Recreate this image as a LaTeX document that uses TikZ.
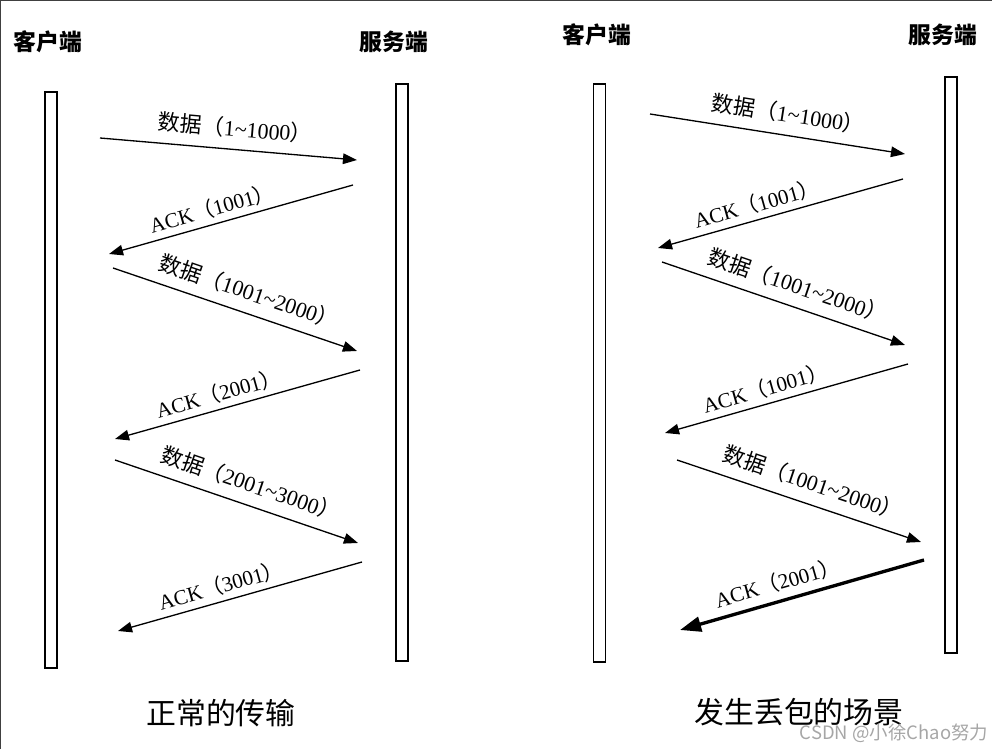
\documentclass[tikz,border=0pt]{standalone}
\usepackage{fontspec}
\setmainfont{Liberation Serif}
\newfontfamily\cjk{Noto Sans CJK SC}
\usetikzlibrary{arrows.meta, positioning}

\newcommand\zh[1]{{\cjk #1}}
\newcommand\datatxt[1]{\zh{数据（}#1\zh{）}}
\newcommand\acktxt[1]{ACK\zh{（}#1\zh{）}}

\begin{document}
\begin{tikzpicture}[x=0.02cm, y=-0.02cm]
    \tikzset{
        lifeline/.style={rectangle, draw, line width=0.9pt, fill=white,
                         minimum width=0.24cm, inner sep=0pt},
        header/.style={font=\cjk\bfseries\fontsize{13}{15}\selectfont},
        caption/.style={font=\cjk\fontsize{17}{20}\selectfont},
        msg/.style={line width=0.75pt, -{Triangle[length=8pt, width=6pt]}},
        lostmsg/.style={line width=1.9pt, -{Triangle[length=12pt, width=8.5pt]}},
        datalabel/.style={sloped, above=5pt, inner sep=1pt,
                          font=\fontsize{12.5}{14}\selectfont},
        acklabel/.style={sloped, above=2pt, inner sep=1pt,
                         font=\fontsize{12}{14}\selectfont}
    }
    \useasboundingbox (0,0) rectangle (992,749);
    \draw[line width=0.04cm, black!75] (0,749) -- (0,0) -- (992,0);

    % normal transfer
    \node[header] (lclient) at (48,42) {客户端};
    \node[header] (lserver) at (394,42) {服务端};
    \node[lifeline, minimum height=11.52cm] (lcbar) at (51,380) {};
    \node[lifeline, minimum height=11.54cm] (lsbar) at (402,372.5) {};

    \coordinate (l1s) at (100,138); \coordinate (l1e) at (357,160);
    \coordinate (l2s) at (353,185); \coordinate (l2e) at (109,254);
    \coordinate (l3s) at (113,268); \coordinate (l3e) at (357,351);
    \coordinate (l4s) at (360,370); \coordinate (l4e) at (115,439);
    \coordinate (l5s) at (115,460); \coordinate (l5e) at (358,543);
    \coordinate (l6s) at (362,562); \coordinate (l6e) at (118,631);

    \draw[msg] (l1s) -- node[datalabel, pos=0.52] {\datatxt{1\textasciitilde1000}} (l1e);
    \draw[msg] (l2s) -- node[acklabel, pos=0.56] {\acktxt{1001}} (l2e);
    \draw[msg] (l3s) -- node[datalabel, pos=0.53] {\datatxt{1001\textasciitilde2000}} (l3e);
    \draw[msg] (l4s) -- node[acklabel, pos=0.56] {\acktxt{2001}} (l4e);
    \draw[msg] (l5s) -- node[datalabel, pos=0.53] {\datatxt{2001\textasciitilde3000}} (l5e);
    \draw[msg] (l6s) -- node[acklabel, pos=0.56] {\acktxt{3001}} (l6e);

    \node[caption] (lcap) at (221,713) {正常的传输};

    % packet loss
    \node[header] (rclient) at (597,35) {客户端};
    \node[header] (rserver) at (943,35) {服务端};
    \node[lifeline, minimum height=11.56cm] (rcbar) at (599.5,373) {};
    \node[lifeline, minimum height=11.52cm] (rsbar) at (951,365) {};

    \coordinate (r1s) at (650,114); \coordinate (r1e) at (905,154);
    \coordinate (r2s) at (903,179); \coordinate (r2e) at (658,248);
    \coordinate (r3s) at (662,262); \coordinate (r3e) at (905,345);
    \coordinate (r4s) at (908,364); \coordinate (r4e) at (665,433);
    \coordinate (r5s) at (677,460); \coordinate (r5e) at (921,542);
    \coordinate (r6s) at (924,560); \coordinate (r6e) at (680,630);

    \draw[msg] (r1s) -- node[datalabel, pos=0.53] {\datatxt{1\textasciitilde1000}} (r1e);
    \draw[msg] (r2s) -- node[acklabel, pos=0.58] {\acktxt{1001}} (r2e);
    \draw[msg] (r3s) -- node[datalabel, pos=0.53] {\datatxt{1001\textasciitilde2000}} (r3e);
    \draw[msg] (r4s) -- node[acklabel, pos=0.57] {\acktxt{1001}} (r4e);
    \draw[msg] (r5s) -- node[datalabel, pos=0.53] {\datatxt{1001\textasciitilde2000}} (r5e);
    \draw[lostmsg] (r6s) -- node[acklabel, above=3pt, pos=0.58] {\acktxt{2001}} (r6e);

    \node[caption] (rcap) at (799,712) {发生丢包的场景};
    \node[font=\cjk\fontsize{10.5}{12}\selectfont, text=gray!70] (mark) at (894,733) {CSDN @小徐Chao努力};
\end{tikzpicture}
\end{document}
